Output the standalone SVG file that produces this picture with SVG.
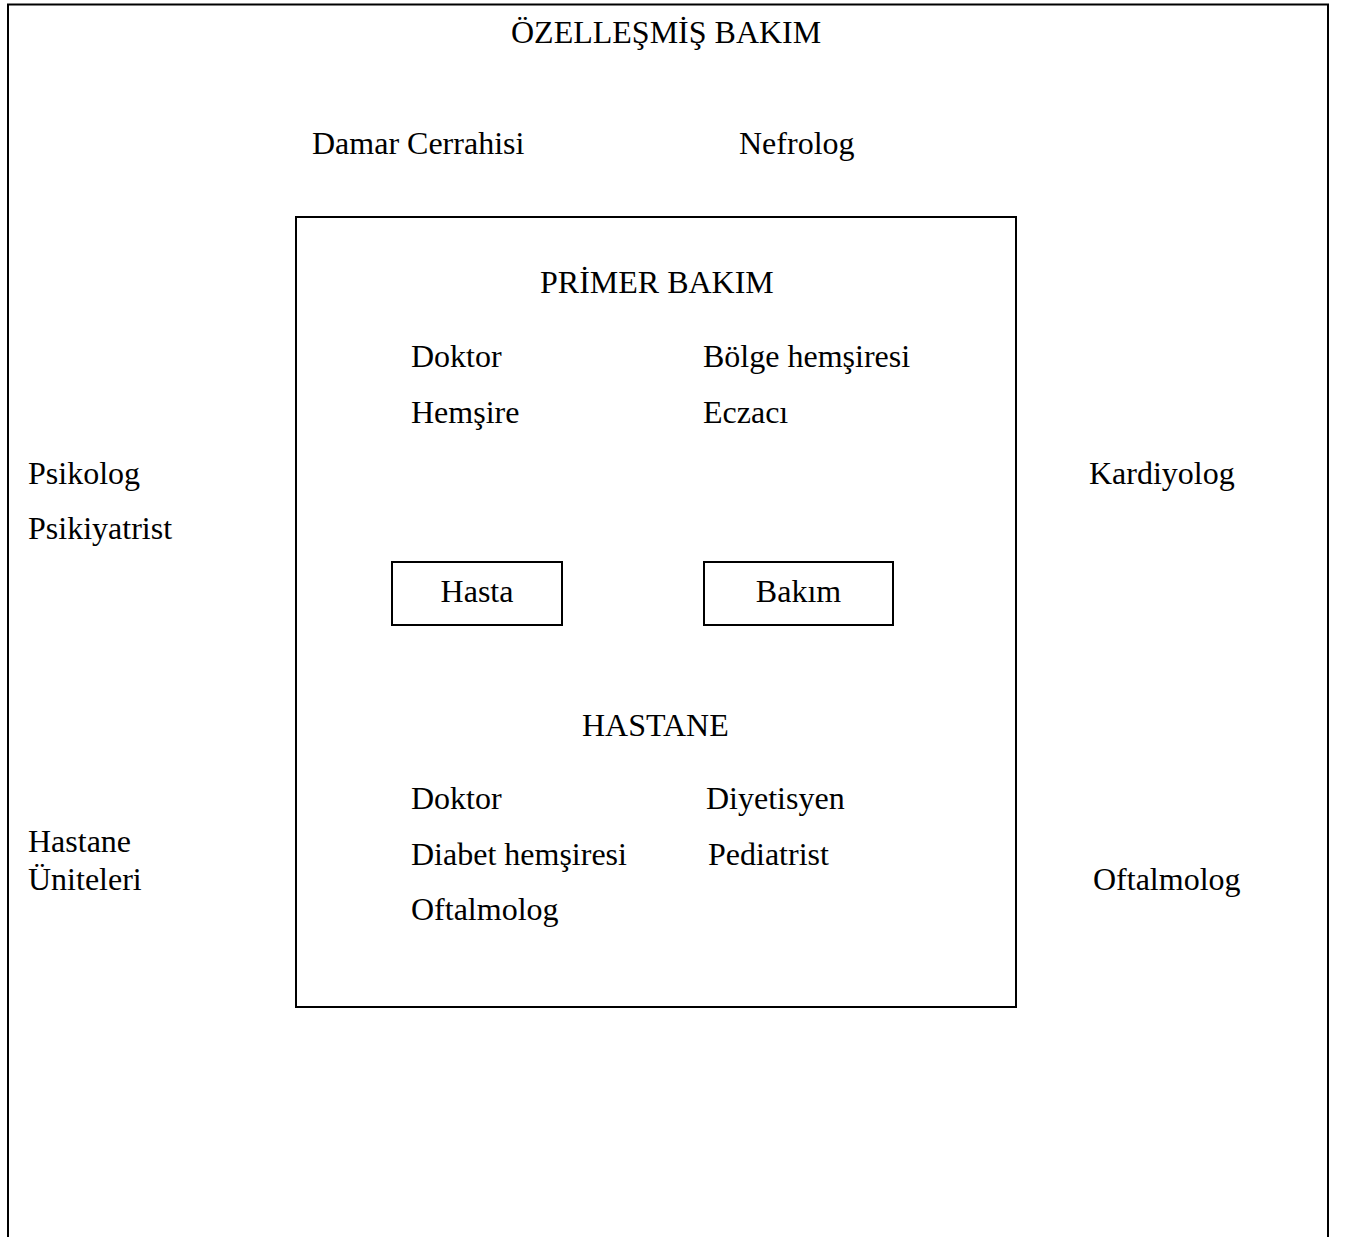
<svg xmlns="http://www.w3.org/2000/svg" width="1351" height="1237" viewBox="0 0 1351 1237">
<style>
text{font-family:"Liberation Serif","Times New Roman",serif;font-size:32px;fill:#000}
.box{fill:none;stroke:#000;stroke-width:2}
.mid{text-anchor:middle}
</style>
<rect width="1351" height="1237" fill="#fff"/>
<g id="ozellesmis">
<path class="box" d="M8 1240 V4.5 H1328 V1240"/>
<text x="511" y="43">ÖZELLEŞMİŞ BAKIM</text>
<text x="312" y="154">Damar Cerrahisi</text>
<text x="739" y="154">Nefrolog</text>
<text x="28" y="484">Psikolog</text>
<text x="28" y="539">Psikiyatrist</text>
<text x="1089" y="484">Kardiyolog</text>
<text x="28" y="852">Hastane</text>
<text x="28" y="890">Üniteleri</text>
<text x="1093" y="890">Oftalmolog</text>
</g>
<g id="primer">
<rect class="box" x="296" y="217" width="720" height="790"/>
<text x="540" y="293">PRİMER BAKIM</text>
<text x="411" y="367">Doktor</text>
<text x="703" y="367">Bölge hemşiresi</text>
<text x="411" y="423">Hemşire</text>
<text x="703" y="423">Eczacı</text>
<text x="582" y="736">HASTANE</text>
<text x="411" y="809">Doktor</text>
<text x="706" y="809">Diyetisyen</text>
<text x="411" y="865">Diabet hemşiresi</text>
<text x="708" y="865">Pediatrist</text>
<text x="411" y="920">Oftalmolog</text>
</g>
<g id="hasta">
<rect class="box" x="392" y="562" width="170" height="63"/>
<text class="mid" x="477" y="602">Hasta</text>
</g>
<g id="bakim">
<rect class="box" x="704" y="562" width="189" height="63"/>
<text class="mid" x="798.5" y="602">Bakım</text>
</g>
<g id="connectors"></g>
</svg>
